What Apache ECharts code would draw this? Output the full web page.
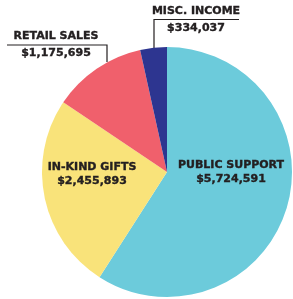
<!DOCTYPE html>
<html>
<head>
<meta charset="utf-8">
<script src="https://cdn.jsdelivr.net/npm/echarts@6/dist/echarts.min.js"></script>
<style>
  html, body { margin: 0; padding: 0; background: #fff; }
  #chart { width: 293px; height: 299px; }
</style>
</head>
<body>
<div id="chart"></div>
<script>
var categories = ['PUBLIC SUPPORT', 'IN-KIND GIFTS', 'RETAIL SALES', 'MISC. INCOME'];
var amounts = [5724591, 2455893, 1175695, 334037];
var colors = ['#6ccbdb', '#f9e37a', '#f0606c', '#2d3590'];

// where each label sits (x, y), and the leader line for the outside ones
var labelSpots = [
    { x: 231, y: 172 },
    { x: 92, y: 174 },
    { x: 56, y: 45, line: [[107, 62], [107, 45], [7, 45]] },
    { x: 196, y: 20, line: [[154, 48], [154, 19.5], [239, 19.5]] }
];

var myChart = echarts.init(document.getElementById('chart'));

var seriesData = categories.map(function (name, i) {
    var outside = !!labelSpots[i].line;
    return {
        name: name,
        value: amounts[i],
        itemStyle: { color: colors[i] },
        label: {
            position: outside ? 'outside' : 'inside',
            lineHeight: outside ? 17 : 13.5
        },
        labelLine: { show: outside }
    };
});

var option = {
    animation: false,
    series: [{
        type: 'pie',
        center: [167, 172],
        radius: 125,
        startAngle: 90,
        clockwise: true,
        emphasis: { disabled: true },
        data: seriesData,
        label: {
            show: true,
            color: '#231f20',
            fontFamily: 'DejaVu Sans',
            fontWeight: 'bold',
            fontSize: 11,
            textBorderColor: '#231f20',
            textBorderWidth: 0.4,
            align: 'center',
            overflow: 'none',
            edgeDistance: 0,
            formatter: function (p) {
                return p.name + '\n$' + p.value.toLocaleString('en-US');
            }
        },
        labelLine: {
            show: true,
            lineStyle: { color: '#231f20', width: 1.2 }
        },
        labelLayout: function (params) {
            var spot = labelSpots[params.dataIndex];
            var res = {
                x: spot.x,
                y: spot.y,
                align: 'center',
                verticalAlign: 'middle'
            };
            if (spot.line) res.labelLinePoints = spot.line;
            return res;
        }
    }]
};

myChart.setOption(option);
</script>
</body>
</html>
